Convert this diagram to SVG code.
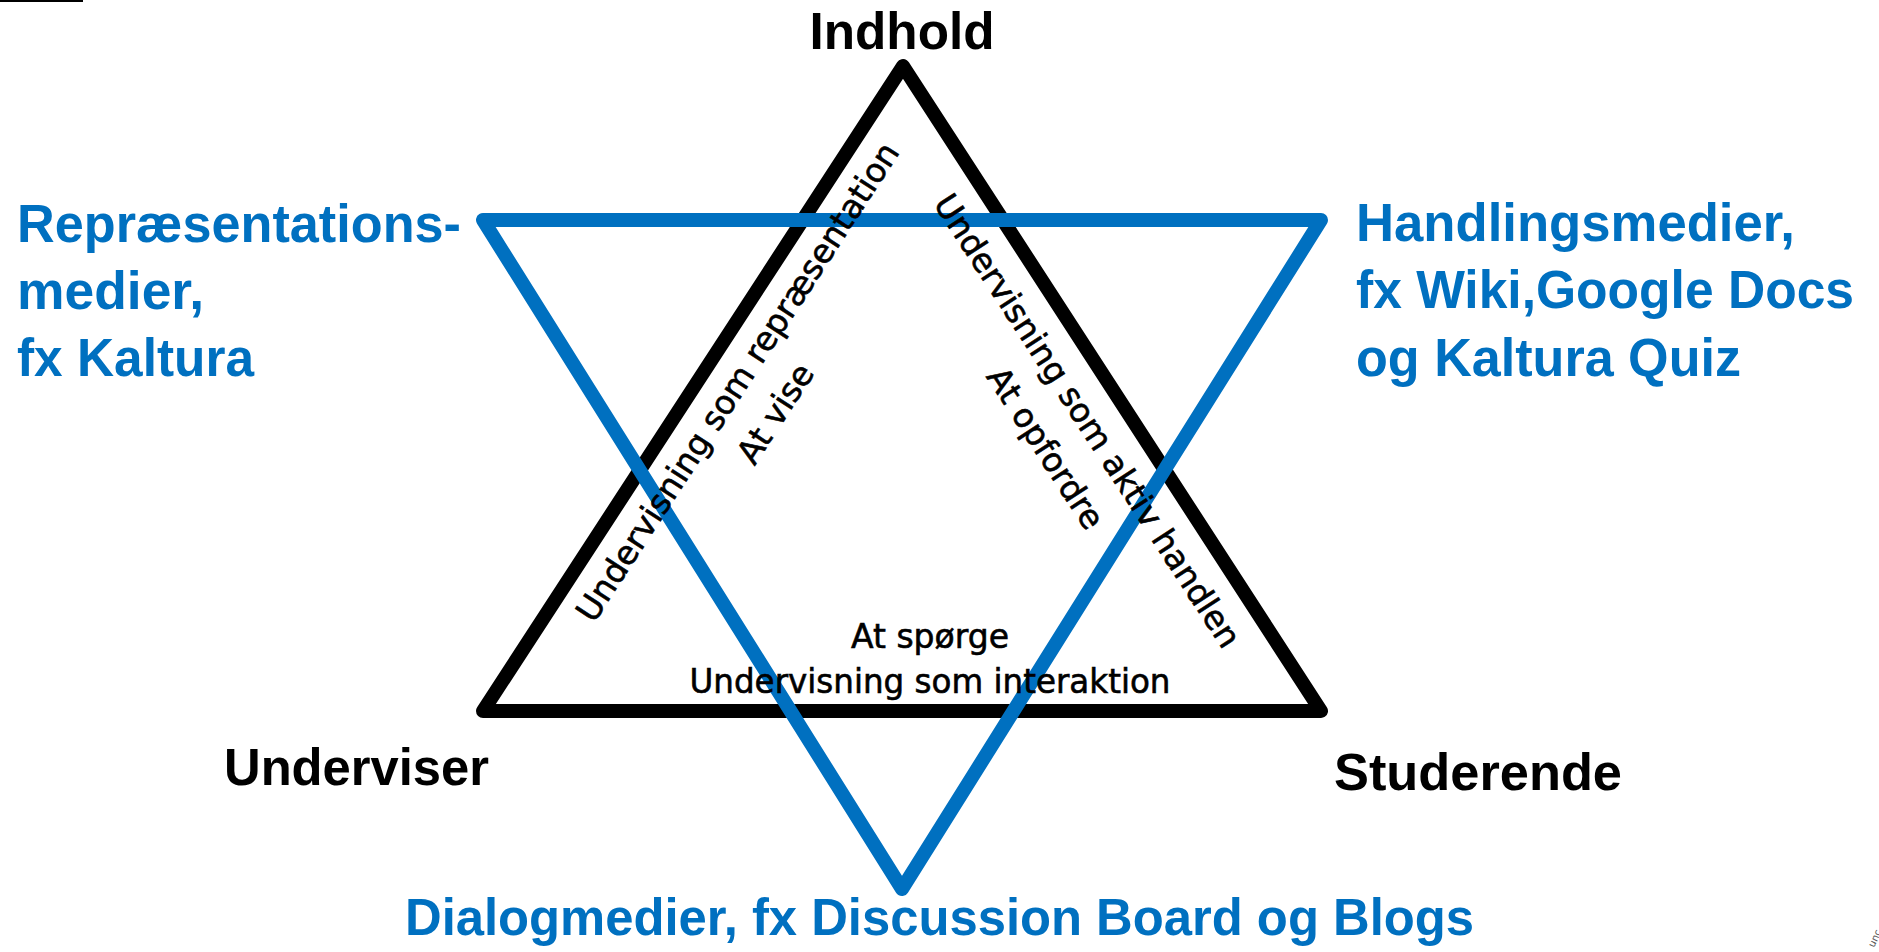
<svg xmlns="http://www.w3.org/2000/svg" width="1879" height="952" viewBox="0 0 1879 952">
<style>
.bg{fill:#ffffff}
.tri{fill:none;stroke-width:14;stroke-linejoin:round;stroke-linecap:round}
.black{stroke:#000000}
.blue{stroke:#0070C0}
.lbl{font-family:"Liberation Sans",Arial,sans-serif;font-weight:bold;font-size:52px;fill:#000000}
.media{font-family:"Liberation Sans",Arial,sans-serif;font-weight:bold;font-size:54px;fill:#0070C0}
.inner{font-family:"DejaVu Sans","Liberation Sans",sans-serif;font-size:33px;fill:#000000;stroke:#000000;stroke-width:0.6}
</style>
<rect class="bg" x="0" y="0" width="1879" height="952"/>
<rect x="0" y="0" width="83" height="2" fill="#000000"/>
<g id="connectors">
  <polygon id="triangle-black" class="tri black" points="903,66 1321,711 483,711"/>
  <polygon id="triangle-blue" class="tri blue" points="483,220 1321,220 902,889"/>
</g>
<g id="node-indhold">
  <text class="lbl" x="902" y="49" text-anchor="middle" textLength="185" lengthAdjust="spacingAndGlyphs">Indhold</text>
</g>
<g id="node-underviser">
  <text class="lbl" x="224" y="785" textLength="265" lengthAdjust="spacingAndGlyphs">Underviser</text>
</g>
<g id="node-studerende">
  <text class="lbl" x="1334" y="790" textLength="288" lengthAdjust="spacingAndGlyphs">Studerende</text>
</g>
<g id="node-repraesentation">
  <text class="media" x="17" y="242" textLength="444" lengthAdjust="spacingAndGlyphs">Repræsentations-</text>
  <text class="media" x="17" y="309" textLength="187" lengthAdjust="spacingAndGlyphs">medier,</text>
  <text class="media" x="17" y="376" textLength="237" lengthAdjust="spacingAndGlyphs">fx Kaltura</text>
</g>
<g id="node-handling">
  <text class="media" x="1356" y="241" textLength="439" lengthAdjust="spacingAndGlyphs">Handlingsmedier,</text>
  <text class="media" x="1356" y="308" textLength="498" lengthAdjust="spacingAndGlyphs">fx Wiki,Google Docs</text>
  <text class="media" x="1356" y="376" textLength="385" lengthAdjust="spacingAndGlyphs">og Kaltura Quiz</text>
</g>
<g id="node-dialog">
  <text class="media" x="405" y="935" style="font-size:52px" textLength="1069" lengthAdjust="spacingAndGlyphs">Dialogmedier, fx Discussion Board og Blogs</text>
</g>
<g id="node-left-side">
  <text class="inner" transform="translate(747,388) rotate(-57)" text-anchor="middle"><tspan x="0" y="0">Undervisning som repræsentation</tspan><tspan x="-6" y="49">At vise</tspan></text>
</g>
<g id="node-right-side">
  <text class="inner" transform="translate(1078,427) rotate(57)" text-anchor="middle"><tspan x="0" y="0">Undervisning som aktiv handlen</tspan><tspan x="0" y="50">At opfordre</tspan></text>
</g>
<g id="node-bottom-side">
  <text class="inner" x="930" y="648" text-anchor="middle">At spørge</text>
  <text class="inner" x="930" y="693" text-anchor="middle" textLength="481" lengthAdjust="spacingAndGlyphs">Undervisning som interaktion</text>
</g>
<text x="1874" y="948" transform="rotate(-65 1874 948)" style="font-family:'DejaVu Sans',sans-serif;font-size:10px;fill:#555555">unc</text>
</svg>
